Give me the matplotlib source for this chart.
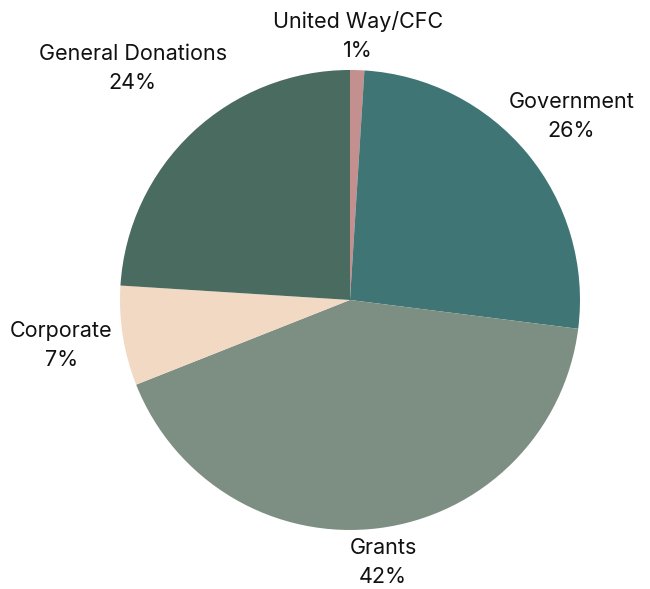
import numpy as np
import matplotlib.pyplot as plt

plt.rcParams['font.family'] = ['Inter', 'DejaVu Sans']

labels = ['United Way/CFC', 'Government', 'Grants', 'Corporate', 'General Donations']
values = [1, 26, 42, 7, 24]
colors = ['#c48f8f', '#3f7574', '#7d8e82', '#f2d9c4', '#4a6b60']
label_dist = [1.15, 1.25, 1.15, 1.27, 1.38]

fig = plt.figure(figsize=(6.5, 5.89), dpi=100)
ax = fig.add_axes([0.1846, 0.1002, 460/650, 460/589])

wedges, _ = ax.pie(values, colors=colors, startangle=90, counterclock=False,
                   radius=1, wedgeprops=dict(linewidth=0))

for w, lab, v, d in zip(wedges, labels, values, label_dist):
    ang = np.deg2rad((w.theta1 + w.theta2) / 2)
    ax.text(d*np.cos(ang), d*np.sin(ang), f'{lab}\n{v}%', ha='center', va='center',
            fontsize=15.5, color='#111111', linespacing=1.55)

ax.set_xlim(-1, 1)
ax.set_ylim(-1, 1)
ax.set_aspect('equal')
ax.axis('off')

fig.savefig('out.png', dpi=100)
